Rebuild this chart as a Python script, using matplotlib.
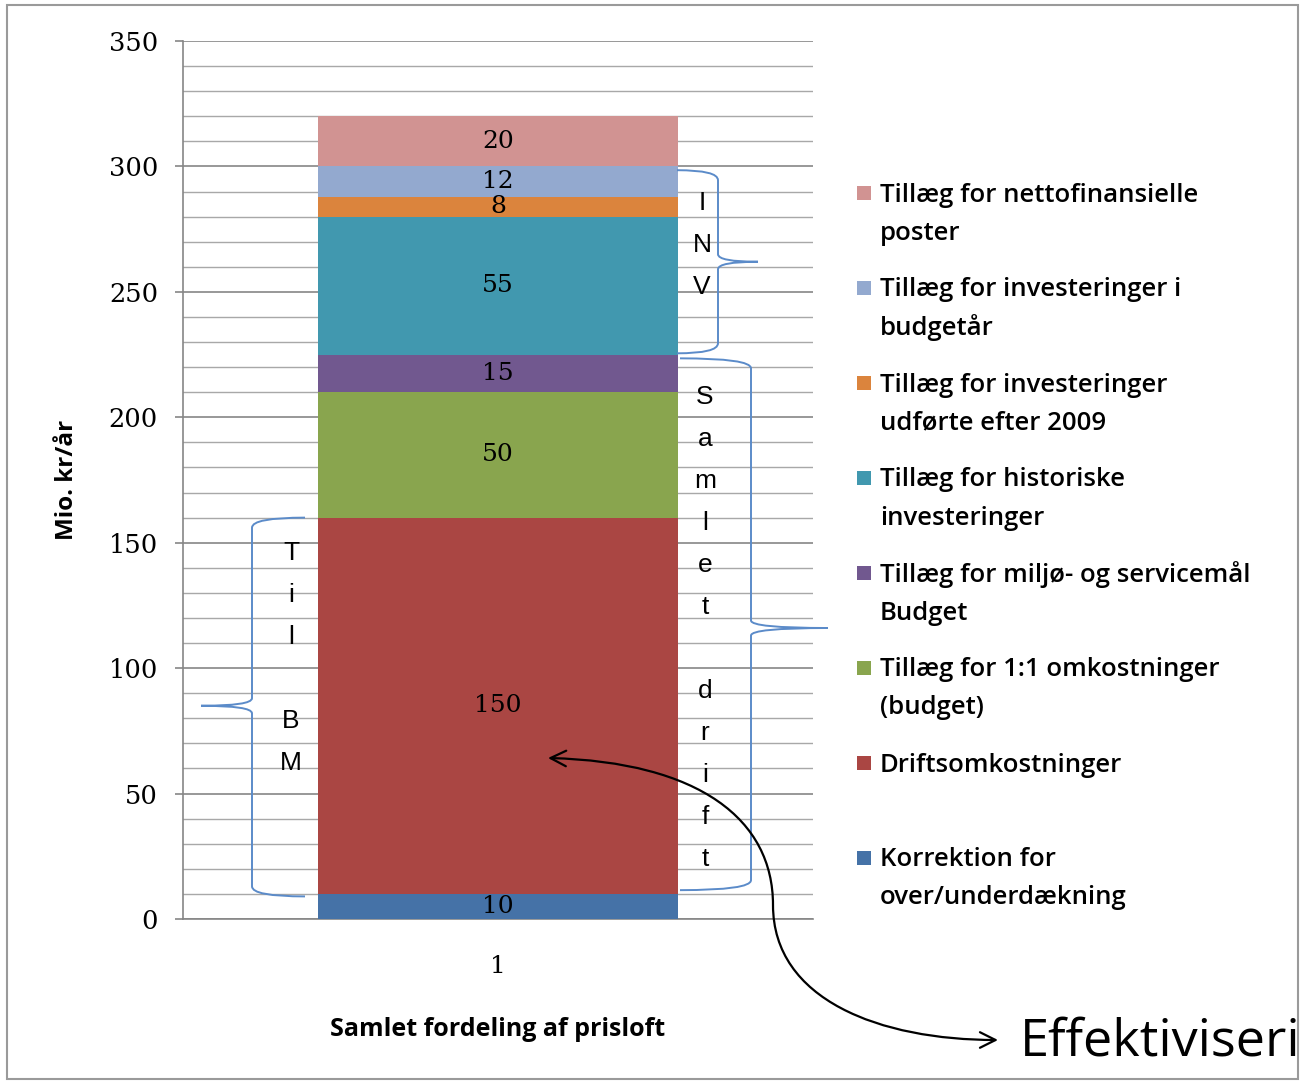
import matplotlib
matplotlib.use("Agg")
import matplotlib.pyplot as plt
from matplotlib.path import Path
from matplotlib.patches import PathPatch, Rectangle, FancyArrowPatch
import numpy as np

# ---------------- data ----------------
categories = ["1"]
series_labels = [
    "Korrektion for\nover/underdækning",
    "Driftsomkostninger",
    "Tillæg for 1:1 omkostninger\n(budget)",
    "Tillæg for miljø- og servicemål\nBudget",
    "Tillæg for historiske\ninvesteringer",
    "Tillæg for investeringer\nudførte efter 2009",
    "Tillæg for investeringer i\nbudgetår",
    "Tillæg for nettofinansielle\nposter",
]
values = [10, 150, 50, 15, 55, 8, 12, 20]
colors = ["#4572A7", "#AA4643", "#89A54E", "#71588F",
          "#4198AF", "#DB843D", "#93A9CF", "#D19392"]
y_ticks = [0, 50, 100, 150, 200, 250, 300, 350]
y_label = "Mio. kr/år"
x_label = "Samlet fordeling af prisloft"

# brace groups: (text, bottom value, top value, tip value)
brace_til = ("Til BM", 9, 160, 85)
brace_inv = ("INV", 225.5, 298.5, 262)
brace_drift = ("Samlet drift", 11.5, 223.5, 116)

SANS = ["Open Sans", "DejaVu Sans"]
SERIF = ["DejaVu Serif"]
plt.rcParams["font.family"] = SANS

W, H = 1303, 1084
fig = plt.figure(figsize=(W / 100, H / 100), dpi=100)
fig.patch.set_facecolor("white")

def fx(px):
    return px / W

def fy(py):
    return 1 - py / H

ax = fig.add_axes([fx(183), fy(919), fx(813) - fx(183), fy(41) - fy(919)])

# ---------------- bars ----------------
x = np.arange(len(categories)) + 1
bottom = np.zeros(len(categories))
for v, c in zip(values, colors):
    ax.bar(x, [v], width=0.57, bottom=bottom, color=c, edgecolor="none", zorder=3)
    ax.text(x[0], bottom[0] + v / 2, f"{v}", ha="center", va="center",
            fontsize=18, family=SERIF, color="black", zorder=4)
    bottom = bottom + v

ax.set_xlim(0.5, 1.5)
ax.set_ylim(0, 350)
ax.set_yticks(y_ticks)
ax.set_yticks(np.arange(0, 351, 10), minor=True)
ax.set_xticks(x)
ax.set_xticklabels(categories)
for lbl in ax.get_yticklabels() + ax.get_xticklabels():
    lbl.set_family(SERIF)
ax.tick_params(axis="y", which="major", length=6, width=1.2, color="#868686",
               labelsize=18.5, pad=12)
ax.tick_params(axis="y", which="minor", length=0)
ax.tick_params(axis="x", length=0, labelsize=18, pad=26)
ax.yaxis.grid(True, which="major", color="#868686", lw=1.2, zorder=0)
ax.yaxis.grid(True, which="minor", color="#a8a8a8", lw=1.0, zorder=0)
ax.set_axisbelow(True)
for s in ["top", "right"]:
    ax.spines[s].set_visible(False)
for s in ["left", "bottom"]:
    ax.spines[s].set_color("#868686")
    ax.spines[s].set_linewidth(1.2)

ax.set_ylabel(y_label, fontsize=17.5, fontweight="bold", va="center")
ax.yaxis.set_label_coords((67 - 183) / 630, 0.5)
ax.set_xlabel(x_label, fontsize=18, fontweight="bold", va="center")
ax.xaxis.set_label_coords(0.5, (919 - 1030) / 878)

# ---------------- braces ----------------
def brace(xe, xv, xt, ybot, ytop, ymid, r=4.0, rt=3.0):
    verts = [(xe, ytop), (xv, ytop), (xv, ytop - r), (xv, ymid + rt),
             (xv, ymid), (xt, ymid), (xv, ymid), (xv, ymid - rt),
             (xv, ybot + r), (xv, ybot), (xe, ybot)]
    codes = [Path.MOVETO, Path.CURVE3, Path.CURVE3, Path.LINETO,
             Path.CURVE3, Path.CURVE3, Path.CURVE3, Path.CURVE3,
             Path.LINETO, Path.CURVE3, Path.CURVE3]
    p = PathPatch(Path(verts, codes), transform=ax.get_yaxis_transform(),
                  fill=False, edgecolor="#5B8BC9", lw=1.4, clip_on=False, zorder=5)
    ax.add_patch(p)

def ax_x(px):
    return (px - 183) / 630

brace(ax_x(305), ax_x(252), ax_x(201), brace_til[1], brace_til[2], brace_til[3])
brace(ax_x(677), ax_x(718), ax_x(758), brace_inv[1], brace_inv[2], brace_inv[3])
brace(ax_x(680), ax_x(751), ax_x(828), brace_drift[1], brace_drift[2], brace_drift[3])

step = 42 / (878 / 350)

def vertical_text(txt, xpx, ystart):
    tr = ax.get_yaxis_transform()
    for i, ch in enumerate(txt):
        if ch.strip():
            ax.text(ax_x(xpx), ystart - i * step, ch, transform=tr, ha="center",
                    va="center", fontsize=19, family=["Liberation Sans", "DejaVu Sans"],
                    color="black", zorder=6, clip_on=False)

vertical_text(brace_til[0], 291, (919 - 553) / (878 / 350))
vertical_text(brace_inv[0], 702, (919 - 203) / (878 / 350))
vertical_text(brace_drift[0], 705, (919 - 397) / (878 / 350))

# ---------------- legend (manual) ----------------
leg_x_text = 880
first_y = 195
entry_step = 95
line_step = 38
for i, idx in enumerate(range(len(values) - 1, -1, -1)):
    y0 = first_y + i * entry_step
    fig.patches.append(Rectangle((fx(857), fy(y0 + 5)), fx(14), 14 / H,
                                 transform=fig.transFigure, facecolor=colors[idx],
                                 edgecolor="none"))
    for j, line in enumerate(series_labels[idx].split("\n")):
        fig.text(fx(leg_x_text), fy(y0 + j * line_step), line, ha="left",
                 va="center", fontsize=18.5, fontweight="semibold", color="black")

# ---------------- arrow ----------------
pts = [(548, 758), (700, 762), (773, 820), (773, 905),
       (773, 1000), (880, 1040), (998, 1040)]
codes = [Path.MOVETO, Path.CURVE4, Path.CURVE4, Path.CURVE4,
         Path.CURVE4, Path.CURVE4, Path.CURVE4]
apath = Path([(fx(a), fy(b)) for a, b in pts], codes)
arrow = FancyArrowPatch(path=apath, arrowstyle="<->", mutation_scale=28,
                        lw=1.6, color="black", transform=fig.transFigure)
fig.patches.append(arrow)

fig.text(fx(1020), fy(1042), "Effektiviseri", ha="left", va="center",
         fontsize=37.5, color="black")

# border
fig.patches.append(Rectangle((fx(7), fy(1079)), fx(1298) - fx(7), fy(5) - fy(1079),
                             transform=fig.transFigure, fill=False,
                             edgecolor="#9a9a9a", lw=1.5))

fig.savefig("out.png", dpi=100)
